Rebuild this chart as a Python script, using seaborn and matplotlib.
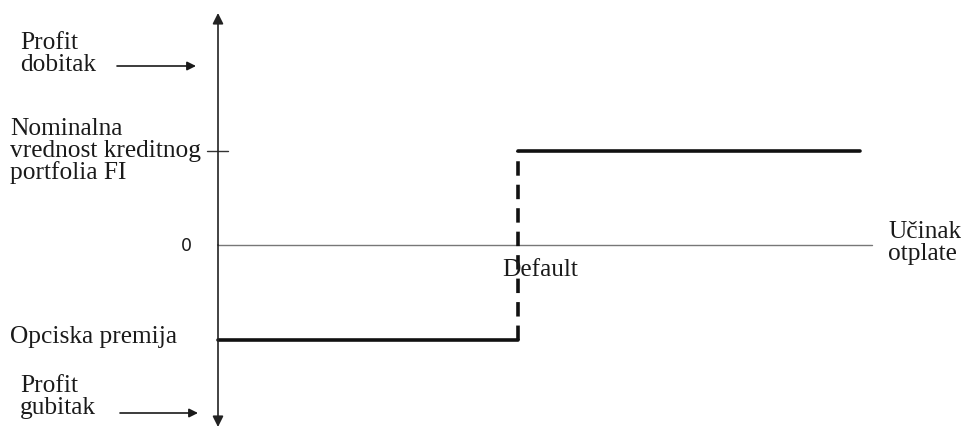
import matplotlib
matplotlib.use("Agg")
import matplotlib.pyplot as plt
import seaborn as sns

# ---- data (schematic payoff) ----
default_x = 1.0
end_x = 2.14
axis_end_x = 2.18
nominal_value = 1.0
option_premium = -1.0

lower_x = [0.0, default_x]
lower_y = [option_premium, option_premium]
jump_x = [default_x, default_x]
jump_y = [option_premium, nominal_value]
upper_x = [default_x, end_x]
upper_y = [nominal_value, nominal_value]
zero_x = [0.0, axis_end_x]
zero_y = [0.0, 0.0]

sns.set_theme(style="white")
plt.rcParams['font.family'] = ['Liberation Serif', 'DejaVu Serif']

fig = plt.figure(figsize=(9.61, 4.29), dpi=100)
ax = fig.add_axes([0, 0, 1, 1])
ax.set_xlim(-218 / 300, 743 / 300)
ax.set_ylim(-184 / 94.5, 245 / 94.5)
ax.axis("off")

sns.lineplot(x=zero_x, y=zero_y, ax=ax, color="#777777", linewidth=1.0)
sns.lineplot(x=lower_x, y=lower_y, ax=ax, color="#111111", linewidth=2.6)
sns.lineplot(x=upper_x, y=upper_y, ax=ax, color="#111111", linewidth=2.6)
ax.plot(jump_x, jump_y, color="#111111", linewidth=2.6,
        linestyle=(0, (4, 2.5)), solid_capstyle="butt")

# vertical axis with arrowheads
top_y = 232 / 94.5
bot_y = -182 / 94.5
ax.annotate("", xy=(0, top_y), xytext=(0, 0),
            arrowprops=dict(arrowstyle="-|>", color="#222222", lw=1.2,
                            mutation_scale=16, shrinkA=0, shrinkB=0))
ax.annotate("", xy=(0, bot_y), xytext=(0, 0),
            arrowprops=dict(arrowstyle="-|>", color="#222222", lw=1.2,
                            mutation_scale=16, shrinkA=0, shrinkB=0))
# tick at nominal value
ax.plot([-11 / 300, 10 / 300], [nominal_value, nominal_value], color="#333333", lw=1.0)

def px(x, y):
    return ((x - 218) / 300, (245 - y) / 94.5)

fs = 18.3
txt = dict(fontsize=fs, color="#1a1a1a", linespacing=1.0)
ax.text(*px(20, 54), "Profit\ndobitak", ha="left", va="center", **txt)
ax.text(*px(10, 151), "Nominalna\nvrednost kreditnog\nportfolia FI", ha="left", va="center", **txt)
ax.text(*px(10, 337), "Opciska premija", ha="left", va="center", **txt)
ax.text(*px(20, 397), "Profit\ngubitak", ha="left", va="center", **txt)
ax.text(*px(540, 270), "Default", ha="center", va="center", **txt)
ax.text(*px(888, 243), "Učinak\notplate", ha="left", va="center", **txt)
ax.text(*px(186, 246), "0", ha="center", va="center", fontsize=12.5,
        color="#1a1a1a", family=["DejaVu Sans"])

# side arrows
for (x0, x1, y) in [(117, 196, 66), (120, 198, 413)]:
    ax.annotate("", xy=px(x1, y), xytext=px(x0, y),
                arrowprops=dict(arrowstyle="-|>", color="#1a1a1a", lw=1.2,
                                mutation_scale=13, shrinkA=0, shrinkB=0))

fig.savefig("out.png", dpi=100)
